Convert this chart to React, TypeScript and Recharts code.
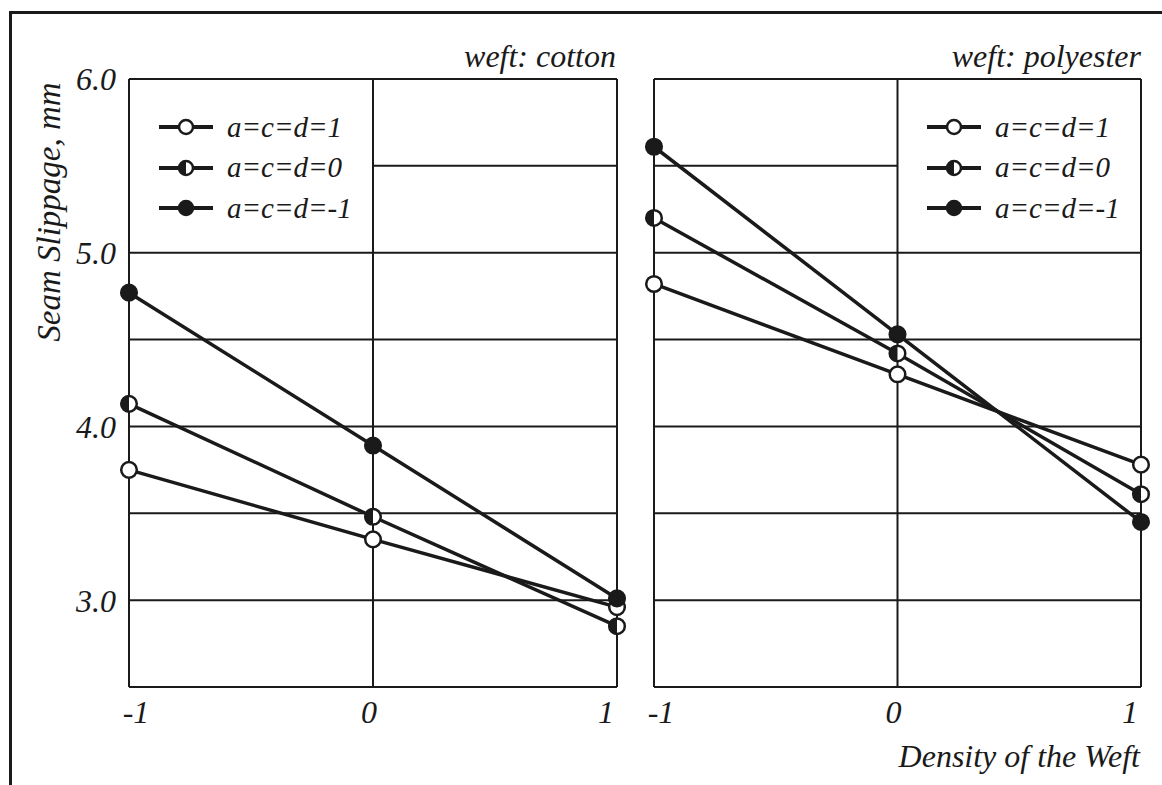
import { LineChart, Line, XAxis, YAxis, ReferenceLine } from 'recharts'

// x: density of the weft (coded level)
const densityLevels = [-1, 0, 1]

// seam slippage, mm — weft: cotton
const cottonAcd1 = [3.75, 3.35, 2.96]
const cottonAcd0 = [4.13, 3.48, 2.85]
const cottonAcdM1 = [4.77, 3.89, 3.01]

// seam slippage, mm — weft: polyester
const polyAcd1 = [4.82, 4.3, 3.78]
const polyAcd0 = [5.2, 4.42, 3.61]
const polyAcdM1 = [5.61, 4.53, 3.45]

const yTicks = [3, 4, 5, 6]
const fullGrid = [3, 3.5, 4, 4.5, 5]
const seriesNames = ['a=c=d=1', 'a=c=d=0', 'a=c=d=-1']
const markerKinds = ['open', 'half', 'filled'] as const

type Kind = (typeof markerKinds)[number]

const INK = '#1a1a1a'
const FONT = '"Liberation Serif", "DejaVu Serif", serif'

function buildRows(s1: number[], s0: number[], sm1: number[]) {
  return densityLevels.map((x, i) => ({ x, s1: s1[i], s0: s0[i], sm1: sm1[i] }))
}

const cottonRows = buildRows(cottonAcd1, cottonAcd0, cottonAcdM1)
const polyRows = buildRows(polyAcd1, polyAcd0, polyAcdM1)

function Marker({ cx, cy, kind, r = 7.8 }: { cx: number; cy: number; kind: Kind; r?: number }) {
  if (cx == null || cy == null) return null
  return (
    <g>
      <circle cx={cx} cy={cy} r={r} fill={kind === 'filled' ? INK : '#fff'} stroke={INK} strokeWidth={2.5} />
      {kind === 'half' && (
        <path d={`M${cx},${cy - r} A${r},${r} 0 0 0 ${cx},${cy + r} Z`} fill={INK} />
      )}
    </g>
  )
}

function dotFor(kind: Kind) {
  return (props: any) => <Marker key={`${kind}-${props.index}`} cx={props.cx} cy={props.cy} kind={kind} />
}

function XTick(props: any) {
  const { x, y, payload } = props
  const shift = payload.value === -1 ? 7 : payload.value === 1 ? -11 : -4
  return (
    <text x={x + shift} y={y + 28} textAnchor="middle" fill={INK} fontSize={32} fontFamily={FONT} fontStyle="italic">
      {payload.value}
    </text>
  )
}

function LegendBox({ left }: { left: number }) {
  return (
    <div
      style={{
        position: 'absolute',
        left,
        top: 107,
        fontFamily: FONT,
        fontStyle: 'italic',
        fontSize: 29,
        color: INK,
        lineHeight: 1,
      }}
    >
      {seriesNames.map((name, i) => (
        <div key={name} style={{ display: 'flex', alignItems: 'center', height: 40.5 }}>
          <svg width={58} height={20} style={{ marginRight: 12 }}>
            <line x1={2} y1={10} x2={56} y2={10} stroke={INK} strokeWidth={4} />
            <Marker cx={29} cy={10} kind={markerKinds[i]} r={7} />
          </svg>
          <span>{name}</span>
        </div>
      ))}
    </div>
  )
}

function Panel({ rows, showY, partialFrom, partialTo, width, marginLeft }: any) {
  const edge = { stroke: INK, strokeWidth: 2 }
  return (
    <LineChart width={width} height={785} data={rows} margin={{ top: 79, right: 21, bottom: 58, left: marginLeft }}>
      <XAxis
        dataKey="x"
        type="number"
        domain={[-1, 1]}
        ticks={densityLevels}
        axisLine={false}
        tickLine={false}
        height={40}
        tick={<XTick />}
      />
      <YAxis
        type="number"
        domain={[2.5, 6]}
        ticks={yTicks}
        hide={!showY}
        width={showY ? 129 : 0}
        axisLine={false}
        tickLine={false}
        tickSize={0}
        tickMargin={13}
        tickFormatter={(v: number) => v.toFixed(1)}
        tick={{ fill: INK, fontSize: 32, fontFamily: FONT, fontStyle: 'italic' }}
      />
      {fullGrid.map((v) => (
        <ReferenceLine key={v} y={v} {...edge} />
      ))}
      <ReferenceLine segment={[{ x: partialFrom, y: 5.5 }, { x: partialTo, y: 5.5 }]} {...edge} />
      <ReferenceLine x={0} {...edge} />
      <ReferenceLine x={-1} {...edge} />
      <ReferenceLine x={1} {...edge} />
      <ReferenceLine y={2.5} {...edge} />
      <ReferenceLine y={6} {...edge} />
      <Line dataKey="s1" name={seriesNames[0]} stroke={INK} strokeWidth={3.5} dot={dotFor('open')} isAnimationActive={false} />
      <Line dataKey="s0" name={seriesNames[1]} stroke={INK} strokeWidth={3.5} dot={dotFor('half')} isAnimationActive={false} />
      <Line dataKey="sm1" name={seriesNames[2]} stroke={INK} strokeWidth={3.5} dot={dotFor('filled')} isAnimationActive={false} />
    </LineChart>
  )
}

const titleStyle: React.CSSProperties = {
  position: 'absolute',
  fontFamily: FONT,
  fontStyle: 'italic',
  fontSize: 32,
  color: INK,
  lineHeight: 1,
  whiteSpace: 'nowrap',
}

export default function App() {
  return (
    <div style={{ position: 'absolute', left: 0, top: 0, width: 1162, height: 785, background: '#fff', overflow: 'hidden' }}>
      <div
        style={{
          position: 'absolute',
          left: 9,
          top: 11,
          width: 1162,
          height: 800,
          borderTop: `3px solid ${INK}`,
          borderLeft: `3px solid ${INK}`,
        }}
      />
      <div style={{ position: 'absolute', left: 0, top: 0 }}>
        <Panel rows={cottonRows} showY partialFrom={0} partialTo={1} width={638} marginLeft={0} />
      </div>
      <div style={{ position: 'absolute', left: 640, top: 0 }}>
        <Panel rows={polyRows} showY={false} partialFrom={-1} partialTo={0} width={522} marginLeft={14} />
      </div>
      <LegendBox left={157} />
      <LegendBox left={925} />
      <div style={{ ...titleStyle, right: 1162 - 616, top: 40 }}>weft: cotton</div>
      <div style={{ ...titleStyle, right: 1162 - 1141, top: 40 }}>weft: polyester</div>
      <div
        style={{
          ...titleStyle,
          fontSize: 33,
          left: 49,
          top: 212,
          transform: 'translate(-50%, -50%) rotate(-90deg)',
        }}
      >
        Seam Slippage, mm
      </div>
      <div style={{ ...titleStyle, right: 1162 - 1140, top: 740 }}>Density of the Weft</div>
    </div>
  )
}
